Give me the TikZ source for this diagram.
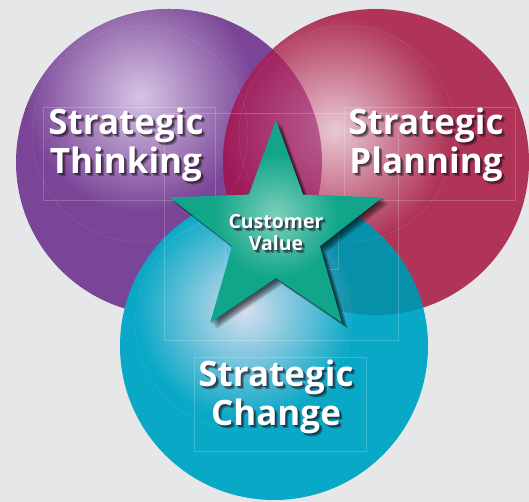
\documentclass[tikz,border=0pt]{standalone}
\usepackage{fontspec}
\setmainfont{Open Sans}

\definecolor{bggray}{HTML}{E6E7E8}
\definecolor{thinkbase}{HTML}{7A4597}
\definecolor{thinklight}{HTML}{D6C4E4}
\definecolor{planbase}{HTML}{AF3457}
\definecolor{planlight}{HTML}{E9C8D4}
\definecolor{changebase}{HTML}{08A8C6}
\definecolor{changelight}{HTML}{D8DEEF}
\definecolor{starbase}{HTML}{11A68A}
\definecolor{starlight}{HTML}{7ECFBB}
\definecolor{thinkplan}{HTML}{8C0058}
\definecolor{txtshadow}{HTML}{1B0B1E}

% star outline, centred on the origin
\newcommand{\starpath}{(90:112) -- (126:46) -- (162:112) -- (198:46) -- (234:112)
  -- (270:46) -- (306:112) -- (342:46) -- (18:112) -- (54:46) -- cycle}

% white label with a soft dark shadow: name, style, position, text
\newcommand{\shadowlabel}[4]{%
  \foreach \d in {1,...,3}
    \node[#2, text=txtshadow, opacity=0.35, xshift=\d*1pt, yshift=-\d*1pt] (#1sh\d) at (#3) {#4};
  \node[#2] (#1) at (#3) {#4};}

\begin{document}
\begin{tikzpicture}[x=1pt,y=1pt,
  guide/.style={white, opacity=0.2, line width=0.4pt},
  guidering/.style={guide, dash pattern=on 2pt off 1.5pt},
  biglabel/.style={text=white, font=\bfseries\fontsize{35}{39}\selectfont, align=center, inner sep=0pt},
  smalllabel/.style={biglabel, font=\bfseries\fontsize{19.5}{22}\selectfont}]

  \fill[bggray] (0,0) rectangle (529,502);
  \useasboundingbox (0,0) rectangle (529,502);

  \coordinate (think) at (169,340);
  \coordinate (plan) at (376,340);
  \coordinate (change) at (274,156);
  \coordinate (star) at (276,270);
  \def\rad{153}

  % purple circle
  \fill[thinkbase] (think) circle (\rad);
  \begin{scope}
    \clip (think) circle (\rad);
    \shade[inner color=thinklight, outer color=thinkbase] (140,405) circle (115);
  \end{scope}

  % crimson circle
  \fill[planbase] (plan) circle (\rad);
  \begin{scope}
    \clip (plan) circle (\rad);
    \shade[inner color=planlight, outer color=planbase] (335,372) circle (115);
    \clip (think) circle (\rad);
    \fill[thinkplan, opacity=0.5] (plan) circle (\rad);
  \end{scope}

  % teal circle
  \fill[changebase] (change) circle (154);
  \begin{scope}
    \clip (change) circle (154);
    \shade[inner color=changelight, outer color=changebase] (245,192) circle (110);
    \clip (plan) circle (\rad);
    \fill[black, opacity=0.14] (change) circle (154);
  \end{scope}

  % faint layout guides
  \draw[guidering] (140,368) circle (108);
  \draw[guidering] (347,368) circle (108);
  \draw[guidering] (243,180) circle (108);
  \draw[guide] (43,302) rectangle (215,395);
  \draw[guide] (344,302) rectangle (515,395);
  \draw[guide] (194,51) rectangle (366,145);
  \draw[guide] (164,162) rectangle (398,389);
  \draw[guide] (225,233) rectangle (338,296);

  % star with its shadow
  \begin{scope}[shift={(star)}]
    \foreach \s in {1,...,8}
      \fill[black, opacity=0.12, shift={(\s*0.8,-\s*0.8)}] \starpath;
    \fill[starbase] \starpath;
    \clip \starpath;
    \shade[inner color=starlight, outer color=starbase] (0,16) circle (62);
  \end{scope}

  % labels
  \shadowlabel{thinking}{biglabel}{126,357}{Strategic\\Thinking}
  \shadowlabel{planning}{biglabel}{426,357}{Strategic\\Planning}
  \shadowlabel{changing}{biglabel}{276,105}{Strategic\\Change}
  \shadowlabel{value}{smalllabel}{276,269}{Customer\\Value}

\end{tikzpicture}
\end{document}
